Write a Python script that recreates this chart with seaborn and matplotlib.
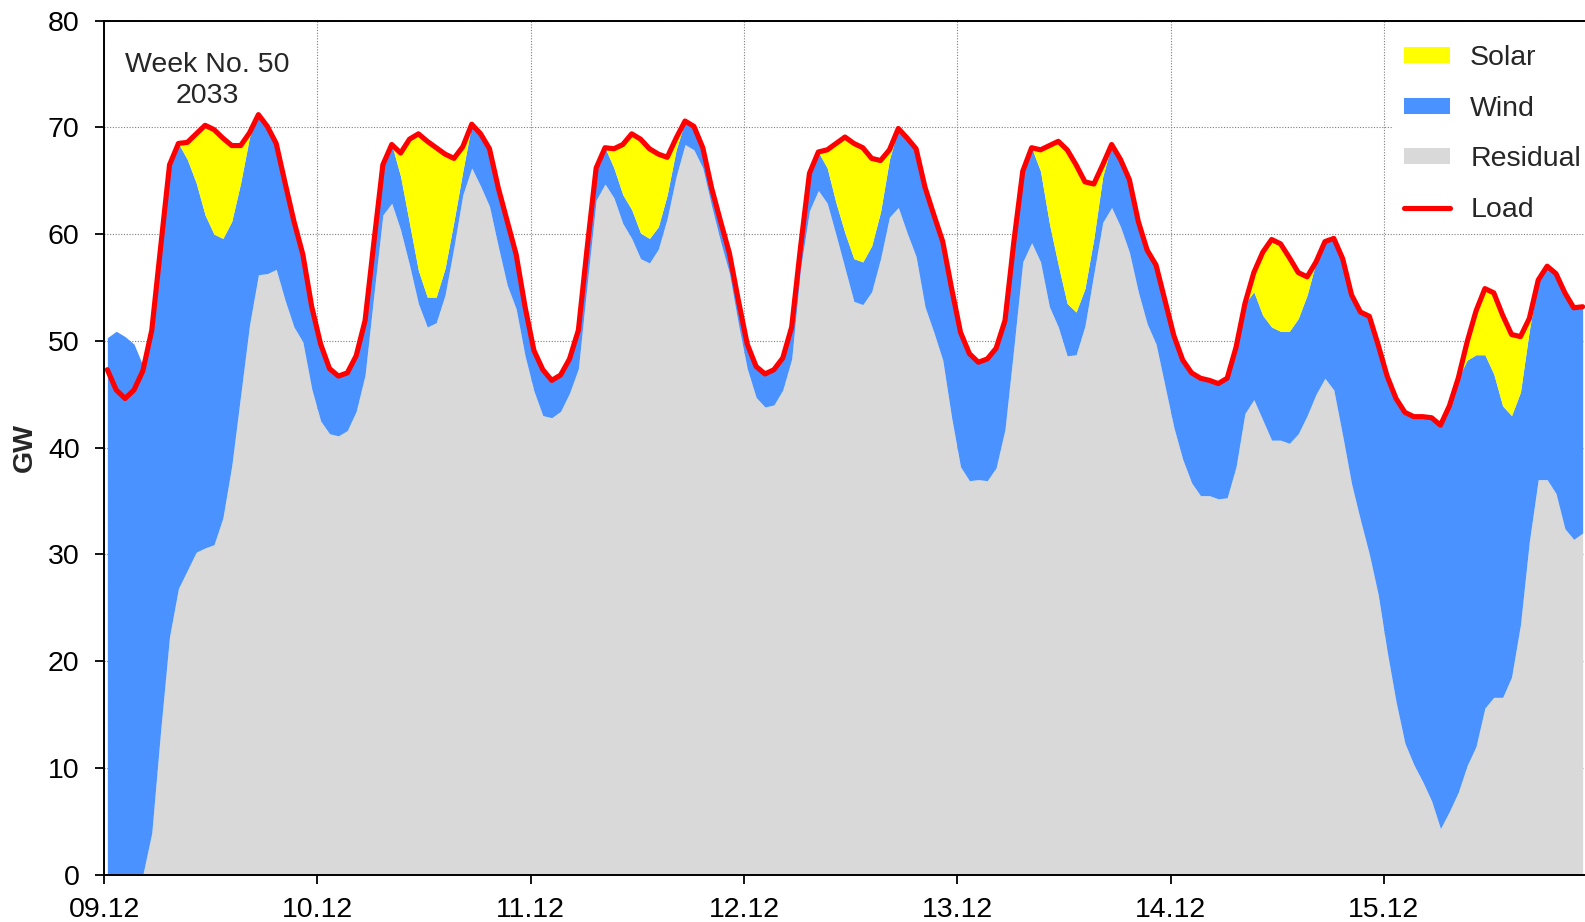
import numpy as np
import pandas as pd
import matplotlib
matplotlib.use("Agg")
import matplotlib.pyplot as plt
import seaborn as sns
from matplotlib.patches import Patch
from matplotlib.lines import Line2D

# ---------------- data (GW, hourly, 09.12 00:00 onwards) ----------------
day_labels = ["09.12", "10.12", "11.12", "12.12", "13.12", "14.12", "15.12"]

load = [
    47.3, 45.4, 44.6, 45.4, 47.2, 51.0, 58.8, 66.5, 68.5, 68.6, 69.4, 70.2, 69.8, 69.0, 68.3, 68.3, 69.5, 71.2, 70.1, 68.5, 64.8, 61.2, 58.1, 53.2,
    49.7, 47.4, 46.7, 47.0, 48.6, 51.9, 59.3, 66.5, 68.4, 67.6, 68.9, 69.4, 68.7, 68.1, 67.5, 67.1, 68.2, 70.3, 69.4, 68.0, 64.3, 61.2, 58.1, 53.2,
    49.1, 47.3, 46.3, 46.8, 48.3, 51.0, 58.8, 66.2, 68.1, 68.0, 68.4, 69.4, 68.9, 68.0, 67.5, 67.2, 69.0, 70.6, 70.1, 68.1, 64.3, 61.2, 58.2, 53.8,
    49.7, 47.6, 46.9, 47.3, 48.4, 51.3, 58.8, 65.7, 67.7, 67.9, 68.5, 69.1, 68.5, 68.1, 67.1, 66.9, 67.9, 69.9, 69.0, 68.0, 64.4, 61.8, 59.3, 54.9,
    50.8, 48.8, 48.0, 48.3, 49.3, 51.9, 59.3, 65.9, 68.1, 67.9, 68.3, 68.7, 67.9, 66.5, 64.9, 64.7, 66.5, 68.4, 67.0, 65.1, 61.2, 58.5, 57.1, 53.8,
    50.5, 48.2, 47.0, 46.5, 46.3, 46.0, 46.5, 49.4, 53.5, 56.4, 58.3, 59.5, 59.1, 57.8, 56.4, 56.0, 57.4, 59.3, 59.6, 57.7, 54.3, 52.7, 52.3, 49.6,
    46.7, 44.6, 43.3, 42.9, 42.9, 42.8, 42.1, 43.9, 46.5, 49.9, 52.8, 54.9, 54.5, 52.4, 50.6, 50.4, 52.1, 55.7, 57.0, 56.3, 54.5, 53.1, 53.2,
]

residual = [
    0.0, 0.0, 0.0, 0.0, 0.0, 3.9, 13.5, 22.3, 26.8, 28.5, 30.2, 30.6, 30.9, 33.4, 38.3, 44.9, 51.5, 56.2, 56.3, 56.7, 53.8, 51.3, 49.9, 45.5,
    42.5, 41.3, 41.1, 41.6, 43.4, 46.8, 54.4, 61.8, 62.9, 60.4, 57.1, 53.5, 51.3, 51.7, 54.3, 58.8, 63.7, 66.2, 64.5, 62.6, 58.8, 55.2, 53.0, 48.6,
    45.3, 43.0, 42.8, 43.4, 45.1, 47.4, 55.4, 63.2, 64.7, 63.4, 61.0, 59.6, 57.7, 57.3, 58.6, 61.5, 65.4, 68.4, 67.9, 66.2, 62.6, 59.3, 56.3, 51.6,
    47.4, 44.7, 43.8, 44.0, 45.4, 48.3, 56.8, 62.2, 64.1, 62.9, 59.9, 56.8, 53.7, 53.4, 54.6, 57.7, 61.6, 62.5, 60.1, 57.9, 53.2, 50.8, 48.2, 42.8,
    38.2, 36.9, 37.0, 36.9, 38.1, 41.7, 49.4, 57.4, 59.2, 57.4, 53.2, 51.3, 48.6, 48.7, 51.4, 56.3, 61.1, 62.5, 60.7, 58.3, 54.6, 51.6, 49.7, 45.8,
    41.9, 38.9, 36.7, 35.5, 35.5, 35.2, 35.3, 38.2, 43.2, 44.5, 42.6, 40.7, 40.7, 40.4, 41.3, 43.0, 45.0, 46.5, 45.4, 41.1, 36.6, 33.2, 30.0, 26.2,
    20.9, 16.2, 12.3, 10.3, 8.7, 6.9, 4.3, 5.9, 7.7, 10.2, 12.0, 15.6, 16.6, 16.6, 18.5, 23.4, 31.2, 37.0, 37.0, 35.7, 32.4, 31.4, 32.0,
]

wind = [
    50.3, 50.9, 50.4, 49.7, 47.7, 47.1, 45.3, 44.2, 41.7, 38.5, 34.6, 31.2, 29.1, 26.2, 22.9, 19.9, 17.6, 15.0, 13.8, 11.8, 11.0, 9.9, 8.2, 7.7,
    7.2, 6.1, 5.6, 5.4, 5.2, 5.1, 4.9, 4.7, 5.5, 5.0, 3.9, 3.1, 2.8, 2.4, 2.5, 2.4, 2.2, 4.1, 4.9, 5.4, 5.5, 6.0, 5.1, 4.6,
    3.8, 4.3, 3.5, 3.4, 3.2, 3.6, 3.4, 3.0, 3.4, 2.8, 2.7, 2.7, 2.4, 2.3, 2.1, 2.2, 2.5, 2.2, 2.2, 1.9, 1.7, 1.9, 1.9, 2.2,
    2.3, 2.9, 3.1, 3.3, 3.0, 3.0, 2.0, 3.5, 3.6, 3.3, 3.0, 3.3, 4.0, 4.0, 4.3, 4.4, 5.4, 7.4, 8.9, 10.1, 11.2, 11.0, 11.1, 12.1,
    12.6, 11.9, 11.0, 11.4, 11.2, 10.2, 9.9, 8.5, 8.9, 8.5, 7.8, 5.8, 4.9, 4.0, 3.5, 3.3, 4.3, 5.9, 6.3, 6.8, 6.6, 6.9, 7.4, 8.0,
    8.6, 9.3, 10.3, 11.0, 10.8, 10.8, 11.2, 11.2, 10.3, 10.1, 9.8, 10.6, 10.2, 10.5, 10.8, 11.3, 12.4, 12.8, 14.2, 16.6, 17.7, 19.5, 22.3, 23.4,
    25.8, 28.4, 31.0, 32.6, 34.2, 35.9, 37.8, 38.0, 38.8, 38.0, 36.7, 33.1, 30.3, 27.3, 24.5, 21.8, 19.8, 18.7, 20.0, 20.6, 22.1, 21.7, 21.2,
]

solar = [
    0.0, 0.0, 0.0, 0.0, 0.0, 0.0, 0.0, 0.0, 0.0, 1.6, 4.6, 8.4, 9.8, 9.4, 7.1, 3.5, 0.4, 0.0, 0.0, 0.0, 0.0, 0.0, 0.0, 0.0,
    0.0, 0.0, 0.0, 0.0, 0.0, 0.0, 0.0, 0.0, 0.0, 2.2, 7.9, 12.8, 14.6, 14.0, 10.7, 5.9, 2.3, 0.0, 0.0, 0.0, 0.0, 0.0, 0.0, 0.0,
    0.0, 0.0, 0.0, 0.0, 0.0, 0.0, 0.0, 0.0, 0.0, 1.8, 4.7, 7.1, 8.8, 8.4, 6.8, 3.5, 1.1, 0.0, 0.0, 0.0, 0.0, 0.0, 0.0, 0.0,
    0.0, 0.0, 0.0, 0.0, 0.0, 0.0, 0.0, 0.0, 0.0, 1.7, 5.6, 9.0, 10.8, 10.7, 8.2, 4.8, 0.9, 0.0, 0.0, 0.0, 0.0, 0.0, 0.0, 0.0,
    0.0, 0.0, 0.0, 0.0, 0.0, 0.0, 0.0, 0.0, 0.0, 2.0, 7.3, 11.6, 14.4, 13.8, 10.0, 5.1, 1.1, 0.0, 0.0, 0.0, 0.0, 0.0, 0.0, 0.0,
    0.0, 0.0, 0.0, 0.0, 0.0, 0.0, 0.0, 0.0, 0.0, 1.8, 5.9, 8.2, 8.2, 6.9, 4.3, 1.7, 0.0, 0.0, 0.0, 0.0, 0.0, 0.0, 0.0, 0.0,
    0.0, 0.0, 0.0, 0.0, 0.0, 0.0, 0.0, 0.0, 0.0, 1.7, 4.1, 6.2, 7.6, 8.5, 7.6, 5.2, 1.1, 0.0, 0.0, 0.0, 0.0, 0.0, 0.0,
]

series_labels = ["Solar", "Wind", "Residual", "Load"]
y_ticks = [0, 10, 20, 30, 40, 50, 60, 70, 80]
annotation = "Week No. 50\n2033"

# ---------------- styling ----------------
C_SOLAR = "#FFFF00"
C_WIND = "#4A92FF"
C_RES = "#D9D9D9"
C_LOAD = "#FF0000"

sns.set_theme(style="white")
plt.rcParams["font.family"] = ["Liberation Sans", "DejaVu Sans"]
FS = 20.5

df = pd.DataFrame({
    "hour": np.arange(len(load)) + 0.375,
    "Residual": residual,
    "Wind": wind,
    "Solar": solar,
    "Load": load,
})

W, H = 1585, 922
fig = plt.figure(figsize=(W / 100, H / 100), dpi=100)
ax_left, ax_top, ax_bottom = 104 / W, 1 - 20.7 / H, 1 - 874.5 / H
ax = fig.add_axes([ax_left, ax_bottom, 1 - ax_left, ax_top - ax_bottom])

ax.stackplot(df["hour"], df["Residual"], df["Wind"], df["Solar"],
             colors=[C_RES, C_WIND, C_SOLAR], linewidth=0, zorder=2)
sns.lineplot(data=df, x="hour", y="Load", color=C_LOAD, linewidth=3.7,
             ax=ax, zorder=3, legend=False)

x_max = (W - 104) / 213.3 * 24
ax.set_xlim(0, x_max)
ax.set_ylim(0, 80)
ax.set_xticks([24 * i for i in range(len(day_labels))])
ax.set_xticklabels(day_labels)
ax.set_yticks(y_ticks)
ax.set_xlabel("")
ax.set_ylabel("")

ax.grid(True, color="#7f7f7f", linestyle=(0, (1, 1.5)), linewidth=0.8)
ax.set_axisbelow(True)
for s in ["left", "bottom", "top"]:
    ax.spines[s].set_visible(True)
    ax.spines[s].set_color("black")
    ax.spines[s].set_linewidth(1.4)
ax.spines["right"].set_visible(False)

ax.tick_params(axis="both", which="major", direction="out", length=6.5,
               width=1.3, color="black", labelsize=FS, labelcolor="black",
               left=True, bottom=True)
ax.tick_params(axis="y", pad=11)
ax.tick_params(axis="x", pad=9.5)

fig.text(25 / W, (ax_top + ax_bottom) / 2, "GW", rotation=90, ha="center",
         va="center", fontsize=FS, fontweight="bold")

ax.text(11.6, 74.4, annotation, ha="center", va="center", fontsize=FS,
        linespacing=1.28, zorder=5)

handles = [
    Patch(facecolor=C_SOLAR, edgecolor="none"),
    Patch(facecolor=C_WIND, edgecolor="none"),
    Patch(facecolor=C_RES, edgecolor="none"),
    Line2D([0], [0], color=C_LOAD, linewidth=3.7),
]
leg = ax.legend(handles, series_labels, loc="upper left",
                bbox_to_anchor=(1393 / W, 1 - 34 / H),
                bbox_transform=fig.transFigure, fontsize=FS, frameon=True,
                fancybox=False, framealpha=1, borderaxespad=0, borderpad=0.4,
                handlelength=1.61, handleheight=0.5, handletextpad=0.7,
                labelspacing=0.86)
leg.get_frame().set_edgecolor("white")
leg.get_frame().set_facecolor("white")
leg.get_frame().set_linewidth(0)
leg.set_zorder(6)

fig.savefig("out.png", dpi=100)
